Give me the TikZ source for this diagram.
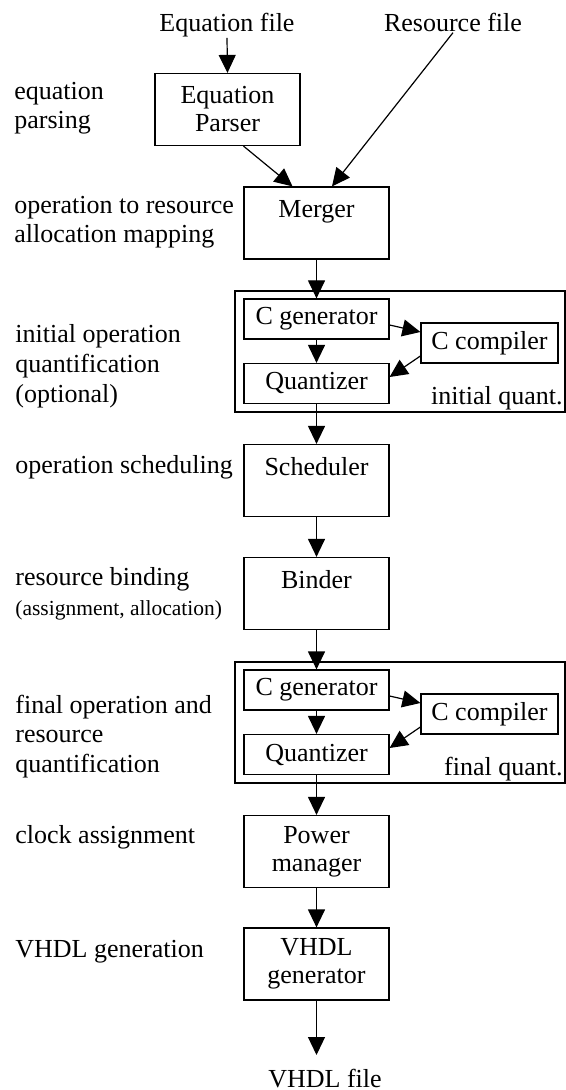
\documentclass[tikz,border=0pt]{standalone}
\usepackage{fontspec}
\setmainfont{Liberation Serif}
\usetikzlibrary{arrows.meta,calc}
\tikzset{
	block/.style={
			draw, line width=0.6pt, align=center, inner sep=0pt,
			minimum width=72.5pt, minimum height=36pt,
			font=\fontsize{13}{14}\selectfont
		},
	smallblock/.style={block, minimum height=20pt},
	quantbox/.style={draw, line width=0.6pt, minimum width=165pt, minimum height=60.5pt, inner sep=0pt},
	filename/.style={anchor=base, inner sep=0pt, font=\fontsize{13}{14}\selectfont},
	steplabel/.style={anchor=base west, align=left, inner sep=0pt, font=\fontsize{13}{14.75}\selectfont},
	flow/.style={line width=0.6pt, -{Triangle[length=9pt,width=8.5pt]}}
}

\begin{document}
\begin{tikzpicture}[x=0.5pt, y=-0.5pt]
	\useasboundingbox (0,0) rectangle (566,1090);

	% Draw the input files
	\node[filename] (eqfile) at (227,32) {Equation file};
	\node[filename] (resfile) at (453,32) {Resource file};

	% Draw the main blocks
	\node[block] (parser) at (227.5,109.5) {Equation\\Parser};
	\node[block] (merger) at (316.5,223) {Merger\\\mbox{}};

	% Draw the initial quantification group
	\node[quantbox] (initq) at (400,351.5) {};
	\node[smallblock] (cgen1) at (316.5,319) {C generator};
	\node[smallblock] (quant1) at (316.5,383.5) {Quantizer};
	\node[smallblock, minimum width=68.5pt] (ccomp1) at (489.5,343) {C compiler};
	\node[filename, anchor=base east] (initqtext) at (563,405) {initial quant.};

	\node[block] (sched) at (316.5,480.5) {Scheduler\\\mbox{}};
	\node[block] (binder) at (316.5,593.5) {Binder\\\mbox{}};

	% Draw the final quantification group
	\node[quantbox] (finalq) at (400,722.5) {};
	\node[smallblock] (cgen2) at (316.5,690) {C generator};
	\node[smallblock] (quant2) at (316.5,754.5) {Quantizer};
	\node[smallblock, minimum width=68.5pt] (ccomp2) at (489.5,714) {C compiler};
	\node[filename, anchor=base east] (finalqtext) at (563,775) {final quant.};

	\node[block] (power) at (316.5,851.5) {Power\\manager};
	\node[block] (vhdlgen) at (316.5,964) {VHDL\\generator};

	% Draw the output file
	\node[filename] (vhdlfile) at (325,1087) {VHDL file};
	\coordinate (vhdlend) at (316.5,1055);

	% Draw the step labels (base is the last line)
	\node[steplabel] (lparse) at (14,129) {equation\\parsing};
	\node[steplabel] (lmerge) at (14,243) {operation to resource\\allocation mapping};
	\node[steplabel] (linitq) at (15,402) {initial operation\\quantification\\(optional)};
	\node[steplabel] (lsched) at (15,473) {operation scheduling};
	\node[steplabel] (lbind) at (15,615) {resource binding\\{\fontsize{10.75}{13}\selectfont (assignment, allocation)}};
	\node[steplabel] (lfinalq) at (15,772) {final operation and\\resource\\quantification};
	\node[steplabel] (lclock) at (15,843) {clock assignment};
	\node[steplabel] (lvhdl) at (15,957) {VHDL generation};

	% Draw the arrows
	\draw[flow] (eqfile.south) -- (parser.north);
	\draw[flow] ([xshift=8pt]parser.south) -- ([xshift=-12pt]merger.north);
	\draw[flow] (resfile.south) -- ([xshift=7.75pt]merger.north);
	\draw[flow] (merger) -- (cgen1);
	\draw[flow] (cgen1) -- (quant1);
	\draw[flow] ([yshift=-3pt]cgen1.east) -- ([yshift=5.5pt]ccomp1.west);
	\draw[flow] ([yshift=-6.5pt]ccomp1.west) -- ([yshift=3.25pt]quant1.east);
	\draw[flow] (quant1) -- (sched);
	\draw[flow] (sched) -- (binder);
	\draw[flow] (binder) -- (cgen2);
	\draw[flow] (cgen2) -- (quant2);
	\draw[flow] ([yshift=-3pt]cgen2.east) -- ([yshift=5.5pt]ccomp2.west);
	\draw[flow] ([yshift=-6.5pt]ccomp2.west) -- ([yshift=3.25pt]quant2.east);
	\draw[flow] (quant2) -- (power);
	\draw[flow] (power) -- (vhdlgen);
	\draw[flow] (vhdlgen) -- (vhdlend);
\end{tikzpicture}
\end{document}
